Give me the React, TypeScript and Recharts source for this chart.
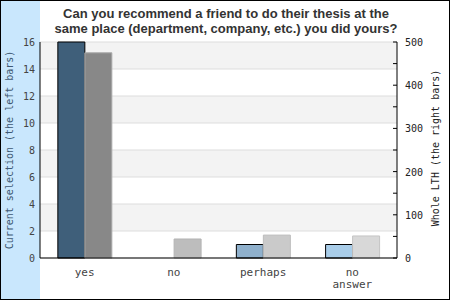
import { Bar, BarChart, CartesianGrid, Cell, XAxis, YAxis } from "recharts";

const CATEGORIES = ["yes", "no", "perhaps", "no answer"];
const CURRENT = [16, 0, 1, 1];
const WHOLE = [475, 44, 53, 51];
const LEFT_TICKS = [0, 2, 4, 6, 8, 10, 12, 14, 16];
const RIGHT_TICKS = [0, 50, 100, 150, 200, 250, 300, 350, 400, 450, 500];

const CURRENT_COLORS = ["#3f5f7a", "#5f84a3", "#8fb0cc", "#a9cde9"];
const WHOLE_COLORS = ["#888888", "#bdbdbd", "#cacaca", "#d8d8d8"];
const WHOLE_STROKES = ["#aaaaaa", "#b4b4b4", "#bcbcbc", "#c4c4c4"];

const DATA = CATEGORIES.map((c, i) => ({ c, cur: CURRENT[i], lth: WHOLE[i] }));

const MONO = "'DejaVu Sans Mono', monospace";

function CategoryTick({ x, y, payload }: any) {
  const lines = String(payload.value).split(" ");
  return (
    <text x={x} y={y} textAnchor="middle" fill="#444" fontFamily={MONO} fontSize={11}>
      {lines.map((l, i) => (
        <tspan key={i} x={x} dy={i === 0 ? 18 : 12}>
          {l}
        </tspan>
      ))}
    </text>
  );
}

function RightTick({ x, y, payload }: any) {
  const axisX = x - 8;
  return (
    <g>
      <line x1={axisX - 4} x2={axisX} y1={y} y2={y} stroke="#000" />
      {payload.value % 100 === 0 && (
        <text x={x} y={y + 4} fill="#222" fontFamily={MONO} fontSize={10}>
          {payload.value}
        </text>
      )}
    </g>
  );
}

// rotated axis title centred in the axis box, shifted by dx from the box's left edge
function axisTitle(text: string, color: string, dx: number, dy: number) {
  return (props: any) => {
    const vb = props.viewBox;
    const cx = vb.x + dx;
    const cy = vb.y + vb.height / 2 + dy;
    return (
      <text
        x={cx}
        y={cy}
        transform={`rotate(-90, ${cx}, ${cy})`}
        textAnchor="middle"
        dominantBaseline="central"
        fill={color}
        fontFamily={MONO}
        fontSize={10}
      >
        {text}
      </text>
    );
  };
}

export default function App() {
  return (
    <div
      style={{
        position: "absolute",
        left: 0,
        top: 0,
        width: 450,
        height: 300,
        background: "linear-gradient(to right, #c9e7fd 0, #c9e7fd 40px, #fff 40px)",
        fontFamily: "'Liberation Sans', Arial, sans-serif",
      }}
    >
      <div
        style={{
          position: "absolute",
          left: 40,
          width: 372,
          top: 6,
          textAlign: "center",
          fontWeight: "bold",
          fontSize: 13,
          lineHeight: "15px",
          color: "#333",
        }}
      >
        Can you recommend a friend to do their thesis at the
        <br />
        same place (department, company, etc.) you did yours?
      </div>
      <BarChart
        width={450}
        height={300}
        data={DATA}
        margin={{ top: 42, right: 0, left: 0, bottom: 0 }}
        barGap={0}
        barCategoryGap="20%"
        style={{ position: "absolute", left: 0, top: 0 }}
      >
        <CartesianGrid
          vertical={false}
          stroke="#dddddd"
          horizontalFill={["#f3f3f3", "#ffffff"]}
          yAxisId="left"
        />
        <XAxis
          dataKey="c"
          height={42}
          axisLine={{ stroke: "#000" }}
          tickLine={false}
          tickSize={0}
          tickMargin={0}
          interval={0}
          tick={<CategoryTick />}
        />
        <XAxis
          xAxisId="top"
          dataKey="c"
          orientation="top"
          height={0}
          axisLine={{ stroke: "#000" }}
          tick={false}
          tickLine={false}
        />
        <YAxis
          yAxisId="left"
          width={40}
          domain={[0, 16]}
          ticks={LEFT_TICKS}
          interval={0}
          axisLine={{ stroke: "#000" }}
          tickLine={false}
          tickSize={5}
          tickMargin={0}
          tick={{ fill: "#444", fontFamily: MONO, fontSize: 10 }}
          label={{ content: axisTitle("Current selection (the left bars)", "#3e5872", 9, 0) }}
        />
        <YAxis
          yAxisId="right"
          orientation="right"
          width={53}
          domain={[0, 500]}
          ticks={RIGHT_TICKS}
          interval={0}
          axisLine={{ stroke: "#000" }}
          tickLine={false}
          tickSize={8}
          tickMargin={0}
          tick={<RightTick />}
          label={{ content: axisTitle("Whole LTH (the right bars)", "#222", 38, -2) }}
        />
        <Bar dataKey="cur" yAxisId="left" stroke="#000" strokeWidth={1} isAnimationActive={false}>
          {DATA.map((_, i) => (
            <Cell key={i} fill={CURRENT_COLORS[i]} />
          ))}
        </Bar>
        <Bar dataKey="lth" yAxisId="right" strokeWidth={1} isAnimationActive={false}>
          {DATA.map((_, i) => (
            <Cell key={i} fill={WHOLE_COLORS[i]} stroke={WHOLE_STROKES[i]} />
          ))}
        </Bar>
      </BarChart>
      <div
        style={{
          position: "absolute",
          left: 0,
          top: 0,
          width: 450,
          height: 300,
          boxSizing: "border-box",
          border: "1px solid #000",
          pointerEvents: "none",
        }}
      />
    </div>
  );
}
